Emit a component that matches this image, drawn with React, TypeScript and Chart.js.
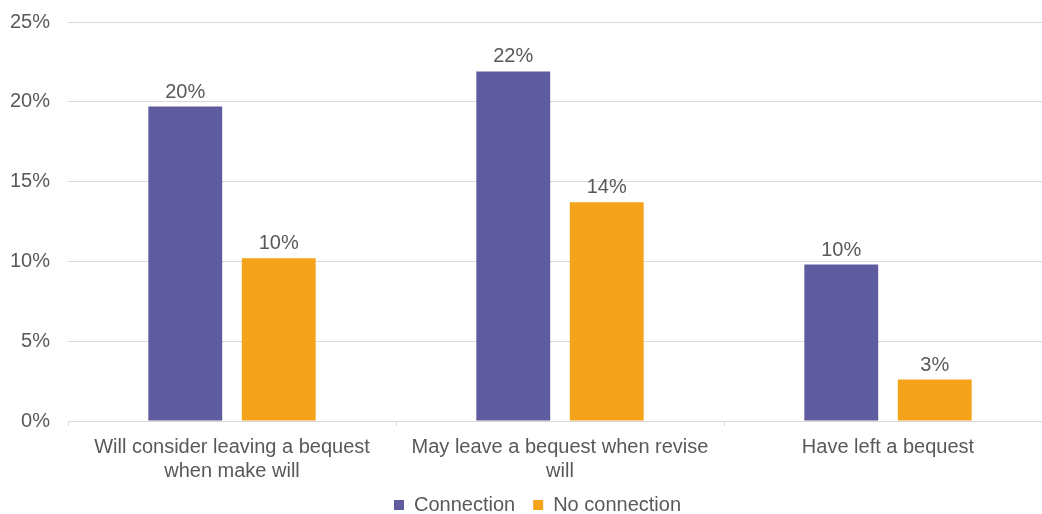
import React, { useEffect, useRef } from "react";
import { Chart, registerables } from "chart.js";

Chart.register(...registerables);

const categories: string[][] = [
  ["Will consider leaving a bequest", "when make will"],
  ["May leave a bequest when revise", "will"],
  ["Have left a bequest"],
];
const connection: number[] = [19.7, 21.9, 9.8];
const noConnection: number[] = [10.2, 13.7, 2.6];
const seriesNames: string[] = ["Connection", "No connection"];
const yTicks: number[] = [0, 5, 10, 15, 20, 25];

const TEXT = "#595959";
const FONT = "'Liberation Sans', Arial, sans-serif";

const valueLabels = {
  id: "valueLabels",
  afterDatasetsDraw(chart: any) {
    const ctx = chart.ctx;
    ctx.save();
    ctx.font = `20px ${FONT}`;
    ctx.fillStyle = TEXT;
    ctx.textAlign = "center";
    ctx.textBaseline = "alphabetic";
    chart.data.datasets.forEach((ds: any, i: number) => {
      const meta = chart.getDatasetMeta(i);
      meta.data.forEach((bar: any, j: number) => {
        const v = ds.data[j];
        ctx.fillText(Math.round(v) + "%", bar.x, bar.y - 9);
      });
    });
    ctx.restore();
  },
};

const legendShift = {
  id: "legendShift",
  beforeDraw(chart: any) {
    const lg = chart.legend;
    if (lg && !lg._shifted) {
      lg.left += 11.5;
      lg.right += 11.5;
      lg._shifted = true;
    }
  },
};

export default function App() {
  const ref = useRef<HTMLCanvasElement | null>(null);
  useEffect(() => {
    if (!ref.current) return;
    const chart = new Chart(ref.current, {
      type: "bar",
      data: {
        labels: categories as any,
        datasets: [
          {
            label: seriesNames[0],
            data: connection,
            backgroundColor: "#5f5b9f",
            categoryPercentage: 0.57,
            barPercentage: 0.79,
          },
          {
            label: seriesNames[1],
            data: noConnection,
            backgroundColor: "#f5a31a",
            categoryPercentage: 0.57,
            barPercentage: 0.79,
          },
        ],
      },
      options: {
        animation: false,
        responsive: false,
        maintainAspectRatio: false,
        layout: { padding: { left: 0, right: 8, top: 0, bottom: -11 } },
        plugins: {
          tooltip: { enabled: false },
          legend: {
            position: "bottom",
            labels: {
              boxWidth: 10,
              boxHeight: 10,
              padding: 18,
              color: TEXT,
              font: { size: 20, family: FONT },
            },
          },
        },
        scales: {
          x: {
            afterFit(axis: any) {
              axis.height = axis.height - 15;
            },
            grid: {
              display: true,
              drawOnChartArea: false,
              drawTicks: true,
              tickLength: 5,
              color: "#d9d9d9",
            },
            border: { display: true, color: "#d9d9d9" },
            ticks: {
              color: TEXT,
              font: { size: 20, family: FONT, lineHeight: 1.2 },
              padding: 9,
              maxRotation: 0,
              autoSkip: false,
            },
          },
          y: {
            min: 0,
            max: 25,
            afterBuildTicks(axis: any) {
              axis.ticks = yTicks.map((v) => ({ value: v }));
            },
            afterFit(axis: any) {
              axis.width = 68;
              axis.paddingTop = 22;
            },
            grid: { color: "#d9d9d9", drawTicks: false },
            border: { display: false },
            ticks: {
              color: TEXT,
              font: { size: 20, family: FONT },
              padding: 18,
              callback: (v: any) => v + "%",
            },
          },
        },
      },
      plugins: [valueLabels, legendShift],
    });
    return () => chart.destroy();
  }, []);
  return (
    <div
      style={{
        position: "fixed",
        left: 0,
        top: 0,
        width: 1042,
        height: 514,
        overflow: "hidden",
        background: "#fff",
      }}
    >
      <canvas ref={ref} width={1060} height={514} style={{ display: "block" }} />
    </div>
  );
}
